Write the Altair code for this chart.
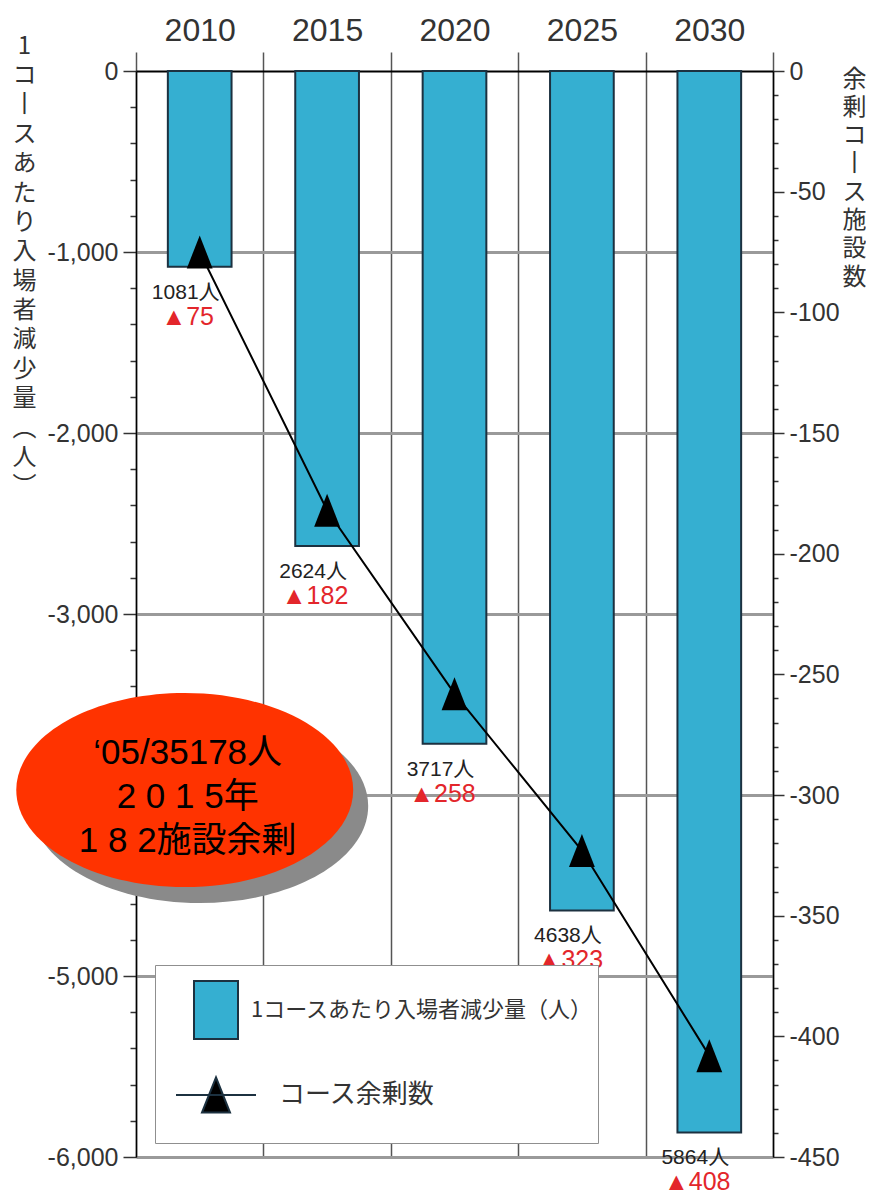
import altair as alt
import pandas as pd

# ---------------- data ----------------
years = ["2010", "2015", "2020", "2025", "2030"]
decrease = [1081, 2624, 3717, 4638, 5864]      # 1コースあたり入場者減少量（人）
surplus = [75, 182, 258, 323, 408]             # コース余剰数
series_names = ["1コースあたり入場者減少量（人）", "コース余剰数"]
left_ticks = list(range(-6000, 1, 200))
right_ticks = list(range(-450, 1, 10))
left_title = ["1", "コ", "丨", "ス", "あ", "た", "り", "入", "場", "者", "減", "少", "量", "︵", "人", "︶"]
right_title = ["余", "剰", "コ", "丨", "ス", "施", "設", "数"]
callout_lines = ["‘05/35178人", "2 0 1 5年", "1 8 2施設余剰"]

# ---------------- styles ----------------
FONT_NUM = "Liberation Sans, Noto Sans CJK JP"
FONT_JP = "Noto Sans CJK JP"
BAR = "#35AFD1"
BAR_EDGE = "#1c3140"
RED = "#E3262B"
W, H = 637, 1086

bars_df = pd.DataFrame({
    "year": years,
    "decrease": decrease,
    "surplus": surplus,
    "series": series_names[0],
    "label": [f"{v}人" for v in decrease],
    "mlabel": [f"▲{s}" for s in surplus],
})
line_df = pd.DataFrame({"year": years, "surplus": surplus})
callout_df = pd.DataFrame({"text": ["\n".join(callout_lines)]})

x_axis = alt.Axis(
    orient="top", title=None, tickBand="extent", grid=True,
    gridColor="#555", gridWidth=1.5, tickColor="#555", tickWidth=1.5, tickSize=19,
    domainColor="black", domainWidth=2, labelAngle=0,
    labelFont=FONT_NUM, labelFontSize=32, labelColor="#333",
    labelBaseline="alphabetic", labelPadding=12, zindex=0,
)
x_enc = alt.X("year:N", sort=years,
              scale=alt.Scale(paddingInner=0, paddingOuter=0), axis=x_axis)

left_axis = alt.Axis(
    orient="left", values=left_ticks, tickCount=200, labelOverlap=False,
    labelExpr="datum.value % 1000 === 0 ? (datum.value < 0 ? '-' : '') + format(abs(datum.value), ',') : ''",
    tickSize=alt.condition("datum.value % 1000 === 0", alt.value(13), alt.value(6)),
    tickColor="#333", tickWidth=1.5, domainColor="black", domainWidth=1.5,
    grid=True, gridColor="#9a9a9a", gridWidth=3,
    gridOpacity=alt.condition("datum.value % 1000 === 0 && datum.value < 0", alt.value(1), alt.value(0)),
    labelFont=FONT_NUM, labelFontSize=25, labelColor="#333", labelPadding=5,
    title=left_title, titleAngle=0, titleAlign="center", titleBaseline="top",
    titleX=-112, titleY=-37, titleFont=FONT_JP, titleFontSize=24,
    titleFontWeight="normal", titleColor="#333", titleLineHeight=29.4, zindex=0,
)
right_axis = alt.Axis(
    orient="right", values=right_ticks, tickCount=200, labelOverlap=False,
    labelExpr="datum.value % 50 === 0 ? (datum.value < 0 ? '-' : '') + format(abs(datum.value), 'd') : ''",
    tickSize=alt.condition("datum.value % 50 === 0", alt.value(11), alt.value(5)),
    tickColor="#333", tickWidth=1.5, domainColor="black", domainWidth=1.5, grid=False,
    labelFont=FONT_NUM, labelFontSize=25, labelColor="#333", labelPadding=5,
    title=right_title, titleAngle=0, titleAlign="center", titleBaseline="top",
    titleX=81, titleY=-4, titleFont=FONT_JP, titleFontSize=24,
    titleFontWeight="normal", titleColor="#333", titleLineHeight=28.3, zindex=0,
)

is_line = "datum.value === 'コース余剰数'"
rect_path = "M-1,-1M1,1M-0.15,-0.725L0.95,-0.725L0.95,0.725L-0.15,0.725Z"
legline_path = "M-1,-1M1,1M-0.6,0L1.4,0M0.4,-0.44L0.75,0.44L0.05,0.44Z"
legend = alt.Legend(
    title=None, orient="none", legendX=19, legendY=894, direction="vertical",
    padding=4, fillColor="white", strokeColor="#8f8f8f",
    symbolSize=6400, rowPadding=-8, labelLimit=600,
    symbolType=alt.ExprRef(expr=f"{is_line} ? '{legline_path}' : '{rect_path}'"),
    symbolStrokeColor=BAR_EDGE, symbolStrokeWidth=2, symbolOpacity=1,
    labelOffset=alt.ExprRef(expr=f"{is_line} ? 38 : 10"),
    labelFontSize=alt.ExprRef(expr=f"{is_line} ? 26 : 22"),
    labelFont=FONT_JP, labelColor="#333",
)

base = alt.Chart(bars_df).transform_calculate(neg="-datum.decrease")
y_left = alt.Y("neg:Q", scale=alt.Scale(domain=[-6000, 0], nice=False), axis=left_axis)

bars = base.mark_bar(width=alt.RelativeBandSize(0.5), stroke=BAR_EDGE, strokeWidth=2).encode(
    x=x_enc, y=y_left,
    color=alt.Color("series:N", scale=alt.Scale(domain=series_names, range=[BAR, "black"]), legend=legend),
)
black_labels = base.mark_text(font=FONT_NUM, fontSize=21, color="#222", baseline="middle",
                              dx=-14, dy=26).encode(x=x_enc, y=y_left, text="label:N")
red_labels = base.mark_text(font=FONT_NUM, fontSize=25, color=RED, baseline="middle",
                            dx=-12, dy=50).encode(x=x_enc, y=y_left, text="mlabel:N")

# callout ellipse (custom symbol path, unit = 170px)
def ellipse(cx, cy, rx=0.991, ry=0.5706):
    return (f"M{cx - rx:.4f},{cy:.4f}A{rx},{ry} 0 1 0 {cx + rx:.4f},{cy:.4f}"
            f"A{rx},{ry} 0 1 0 {cx - rx:.4f},{cy:.4f}Z")

call = alt.Chart(callout_df)
shadow = call.mark_point(shape=ellipse(0.0, 0.065), size=115600, filled=True,
                         color="#8a8a8a", opacity=1, strokeWidth=0).encode(
    x=alt.datum("2010"), y=alt.datum(-4000))
oval = call.mark_point(shape=ellipse(-0.088, -0.029), size=115600, filled=True,
                       color="#FF3300", opacity=1, strokeWidth=0).encode(
    x=alt.datum("2010"), y=alt.datum(-4000))
oval_text = call.mark_text(font=FONT_NUM, fontSize=35, color="black", baseline="middle",
                           align="center", lineBreak="\n", lineHeight=44, dx=-12, dy=-42).encode(
    x=alt.datum("2010"), y=alt.datum(-4000), text="text:N")

left_group = alt.layer(bars, black_labels, red_labels, shadow, oval, oval_text)

rbase = alt.Chart(line_df).transform_calculate(negs="-datum.surplus")
y_right = alt.Y("negs:Q", scale=alt.Scale(domain=[-450, 0], nice=False), axis=right_axis)
tri_path = "M0,-0.6L0.47,0.6L-0.47,0.6Z"
line = rbase.mark_line(color="black", strokeWidth=2).encode(x=x_enc, y=y_right)
points = rbase.mark_point(shape=tri_path, size=3025, filled=True, color="black",
                          opacity=1, strokeWidth=0).encode(x=x_enc, y=y_right)
right_group = alt.layer(line, points)

chart = alt.layer(left_group, right_group).resolve_scale(y="independent").properties(
    width=W, height=H,
    autosize=alt.AutoSizeParams(type="none"),
    padding={"left": 128, "top": 63, "right": 93, "bottom": 37},
).configure_view(stroke=None)

chart.save("out.html", embed_options={"renderer": "svg", "actions": False})
